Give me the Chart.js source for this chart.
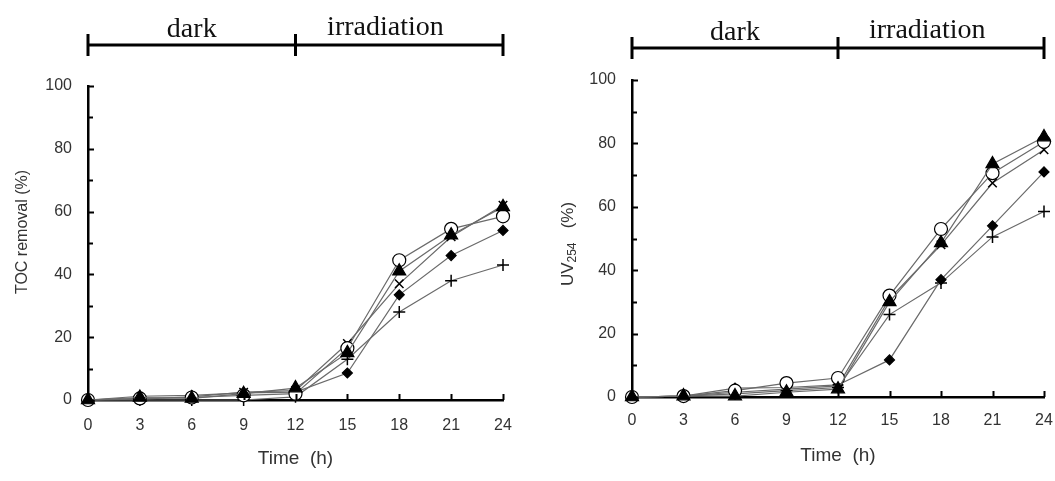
<!DOCTYPE html>
<html lang="en">
<head>
<meta charset="UTF-8">
<title>TOC removal and UV254 vs time</title>
<script src="https://cdn.jsdelivr.net/npm/chart.js@4.4.0/dist/chart.umd.min.js"></script>
<style>
    body { margin: 0; background: #fff; }
    .wrap { position: relative; width: 1055px; height: 481px; }
    canvas { position: absolute; top: 0; }
</style>
</head>
<body>
<div class="wrap">
    <canvas id="tocChart" width="527" height="481" style="left:0"></canvas>
    <canvas id="uvChart" width="528" height="481" style="left:527px"></canvas>
</div>
<script>
// time axis (h)
const hours = [0, 3, 6, 9, 12, 15, 18, 21, 24];
const phaseLabels = ['dark', 'irradiation'];

// TOC removal (%) - left panel
const tocTriangle = [0, 0.8, 0.5, 2.0, 3.8, 15.0, 41.0, 52.5, 61.5];
const tocCircle   = [0, 0.5, 0.8, 1.5, 2.0, 16.5, 44.5, 54.5, 58.5];
const tocCross    = [0, 0.3, 1.0, 2.5, 3.0, 18.0, 37.0, 52.0, 62.0];
const tocDiamond  = [0, 1.2, 1.5, 2.3, 2.5, 8.6, 33.5, 46.0, 54.0];
const tocPlus     = [0, 0, 0, 0, 1.0, 13.0, 28.0, 38.0, 43.0];

// UV254 removal (%) - right panel
const uvTriangle = [0, 0.3, 0.3, 1.5, 2.5, 30.0, 48.6, 73.5, 82.0];
const uvCircle   = [0, 0.3, 2.0, 4.4, 6.0, 32.0, 53.0, 70.6, 80.5];
const uvCross    = [0, 0.3, 1.5, 2.5, 3.5, 31.0, 48.0, 67.5, 78.0];
const uvDiamond  = [0, 0.3, 2.8, 3.0, 3.8, 11.7, 37.0, 54.0, 71.0];
const uvPlus     = [0, 0.3, 1.0, 2.0, 3.0, 26.0, 36.0, 50.5, 58.5];

const SANS = '"Liberation Sans", Arial, sans-serif';
const SERIF = '"Liberation Serif", "Times New Roman", serif';
const TEXT = '#333';

function series(values, style) {
    const base = {
        data: hours.map((h, i) => ({ x: h, y: values[i] })),
        borderColor: '#6a6a6a',
        borderWidth: 1.2,
        pointBorderColor: '#000',
        pointBorderWidth: 1.2,
        pointBackgroundColor: '#000',
        clip: false,
        tension: 0
    };
    if (style === 'circle') { base.pointStyle = 'circle'; base.pointRadius = 6.5; base.pointBackgroundColor = '#fff'; }
    if (style === 'triangle') { base.pointStyle = 'triangle'; base.pointRadius = 7.5; }
    if (style === 'cross') { base.pointStyle = 'crossRot'; base.pointRadius = 6; base.pointBorderWidth = 1.5; }
    if (style === 'diamond') { base.pointStyle = 'rectRot'; base.pointRadius = 5; }
    if (style === 'plus') { base.pointStyle = 'cross'; base.pointRadius = 6; base.pointBorderWidth = 1.5; }
    return base;
}

// brackets, inward ticks, axis titles
const decorPlugin = {
    id: 'decor',
    afterDraw(chart, args, opts) {
        const ctx = chart.ctx;
        const xs = chart.scales.x, ys = chart.scales.y;
        const area = chart.chartArea;
        ctx.save();
        ctx.strokeStyle = '#000';

        // inward tick marks
        ctx.lineWidth = 2;
        ctx.beginPath();
        for (let v = 0; v <= 100; v += 10) {
            const y = Math.round(ys.getPixelForValue(v)) + 0.5;
            ctx.moveTo(area.left, y);
            ctx.lineTo(area.left + (v % 20 === 0 ? 6 : 5), y);
        }
        hours.forEach(h => {
            const x = Math.round(xs.getPixelForValue(h)) + 0.5;
            ctx.moveTo(x, area.bottom);
            ctx.lineTo(x, area.bottom - 6);
        });
        ctx.stroke();

        // phase bracket
        const by = opts.barY;
        const x0 = xs.getPixelForValue(0), x12 = xs.getPixelForValue(12), x24 = xs.getPixelForValue(24);
        ctx.lineWidth = 3;
        ctx.beginPath();
        ctx.moveTo(x0, by); ctx.lineTo(x24, by);
        [x0, x12, x24].forEach(x => { ctx.moveTo(x, by - 11); ctx.lineTo(x, by + 11); });
        ctx.stroke();
        ctx.fillStyle = '#111';
        ctx.font = '28px ' + SERIF;
        ctx.textAlign = 'center';
        ctx.textBaseline = 'alphabetic';
        ctx.fillText(phaseLabels[0], xs.getPixelForValue(6), by - 8);
        ctx.fillText(phaseLabels[1], xs.getPixelForValue(17.2), by - 10);

        // x title
        ctx.fillStyle = TEXT;
        ctx.font = '19px ' + SANS;
        ctx.textBaseline = 'middle';
        ctx.fillText('Time  (h)', xs.getPixelForValue(12), opts.xTitleY);

        // y title (rotated)
        ctx.translate(opts.yTitleX, opts.yTitleY);
        ctx.rotate(-Math.PI / 2);
        ctx.textAlign = 'left';
        const parts = opts.yTitle;
        let total = 0;
        parts.forEach(p => { ctx.font = p.size + 'px ' + SANS; total += ctx.measureText(p.t).width; });
        let cx = -total / 2;
        parts.forEach(p => {
            ctx.font = p.size + 'px ' + SANS;
            ctx.fillText(p.t, cx, p.dy || 0);
            cx += ctx.measureText(p.t).width;
        });
        ctx.restore();
    }
};

function makeChart(id, sets, cfg) {
    return new Chart(document.getElementById(id), {
        type: 'line',
        data: {
            datasets: [
                series(sets[0], 'triangle'),
                series(sets[1], 'circle'),
                series(sets[2], 'cross'),
                series(sets[3], 'diamond'),
                series(sets[4], 'plus')
            ]
        },
        options: {
            responsive: false,
            animation: false,
            events: [],
            layout: { padding: { left: 0, right: cfg.padRight, top: cfg.top, bottom: 0 } },
            plugins: {
                legend: { display: false },
                tooltip: { enabled: false },
                decor: cfg.decor
            },
            scales: {
                x: {
                    type: 'linear', min: 0, max: 24,
                    afterBuildTicks: s => { s.ticks = hours.map(v => ({ value: v })); },
                    grid: { display: false, drawTicks: false },
                    border: { display: true, color: '#000', width: 2.5 },
                    ticks: { color: TEXT, font: { family: SANS, size: 16 }, padding: cfg.xPad, maxRotation: 0 },
                    afterFit: s => { s.height = cfg.xHeight; s.paddingLeft = 0; s.paddingRight = 0; }
                },
                y: {
                    min: 0, max: 100,
                    ticks: { stepSize: 20, color: TEXT, font: { family: SANS, size: 16 }, padding: 16 },
                    grid: { display: false, drawTicks: false },
                    border: { display: true, color: '#000', width: 2.5 },
                    afterFit: s => { s.width = cfg.yWidth; s.paddingTop = 0; s.paddingBottom = 0; }
                }
            }
        },
        plugins: [decorPlugin]
    });
}

makeChart('tocChart', [tocTriangle, tocCircle, tocCross, tocDiamond, tocPlus], {
    padRight: 24, top: 86, xHeight: 81, yWidth: 88, xPad: 16,
    decor: {
        barY: 45, xTitleY: 459, yTitleX: 23, yTitleY: 232,
        yTitle: [{ t: 'TOC removal (%)', size: 16 }]
    }
});

makeChart('uvChart', [uvTriangle, uvCircle, uvCross, uvDiamond, uvPlus], {
    padRight: 11, top: 80, xHeight: 84, yWidth: 105, xPad: 14,
    decor: {
        barY: 48, xTitleY: 456, yTitleX: 41, yTitleY: 244,
        yTitle: [{ t: 'UV', size: 17 }, { t: '254', size: 12, dy: 5 }, { t: '   (%)', size: 17 }]
    }
});
</script>
</body>
</html>
